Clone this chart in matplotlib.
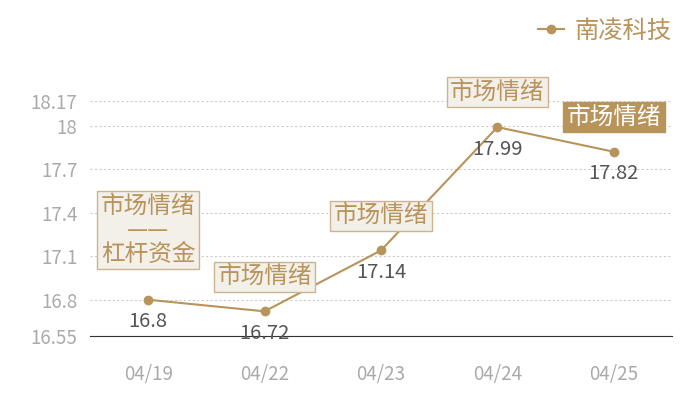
import matplotlib
matplotlib.use('Agg')
import matplotlib.pyplot as plt

plt.rcParams['font.family'] = ['Noto Sans CJK SC', 'DejaVu Sans']

# datos
fechas = ['04/19', '04/22', '04/23', '04/24', '04/25']
valores = [16.8, 16.72, 17.14, 17.99, 17.82]
etiquetas = ['市场情绪\n——\n杠杆资金', '市场情绪', '市场情绪', '市场情绪', '市场情绪']
yticks = [16.55, 16.8, 17.1, 17.4, 17.7, 18, 18.17]
serie = '南凌科技'

oro = '#b8935a'
borde = '#cdb48e'
fondo = '#f3efe9'

fig = plt.figure(figsize=(7, 4), dpi=100)
ax = fig.add_axes([90/700, 1-336/400, (672-90)/700, (336-101)/400])

x = list(range(len(fechas)))
ax.plot(x, valores, color=oro, lw=1.5, marker='o', ms=6, label=serie)

ax.set_xlim(-0.5, len(fechas)-0.5)
ax.set_ylim(16.55, 18.17)
ax.set_yticks(yticks)
ax.set_yticklabels([f'{v:g}' for v in yticks])
ax.set_xticks(x)
ax.set_xticklabels(fechas)
ax.tick_params(length=0, colors='#aaaaaa', labelsize=13.5)
ax.tick_params(axis='x', pad=20)
ax.tick_params(axis='y', pad=9)
for s in ['top', 'right', 'left']:
    ax.spines[s].set_visible(False)
ax.spines['bottom'].set_color('#333333')
ax.yaxis.grid(True, linestyle=(0, (2, 2)), color='#cccccc', lw=0.8)
ax.set_axisbelow(True)

# etiquetas de valores
for xi, v in zip(x, valores):
    ax.annotate(f'{v:g}', (xi, v), xytext=(0, -16), textcoords='offset points',
                ha='center', va='center', fontsize=14.5, color='#555555')

# cajas
desf = [50, 25, 25, 25, 25]
for i, (xi, v, t) in enumerate(zip(x, valores, etiquetas)):
    if i == len(x) - 1:
        caja = dict(boxstyle='square,pad=0.15', fc=oro, ec=oro, lw=1)
        col = 'white'
    else:
        caja = dict(boxstyle='square,pad=0.15', fc=fondo, ec=borde, lw=1)
        col = oro
    ax.annotate(t, (xi, v), xytext=(0, desf[i]), textcoords='offset points',
                ha='center', va='center', fontsize=17, color=col, bbox=caja,
                linespacing=1.05)

leg = fig.legend(loc='upper right', bbox_to_anchor=(0.99, 1.01), frameon=False,
                 fontsize=17.5, handlelength=1.1, handletextpad=0.4)
for t in leg.get_texts():
    t.set_color(oro)

fig.savefig('out.png', dpi=100)
